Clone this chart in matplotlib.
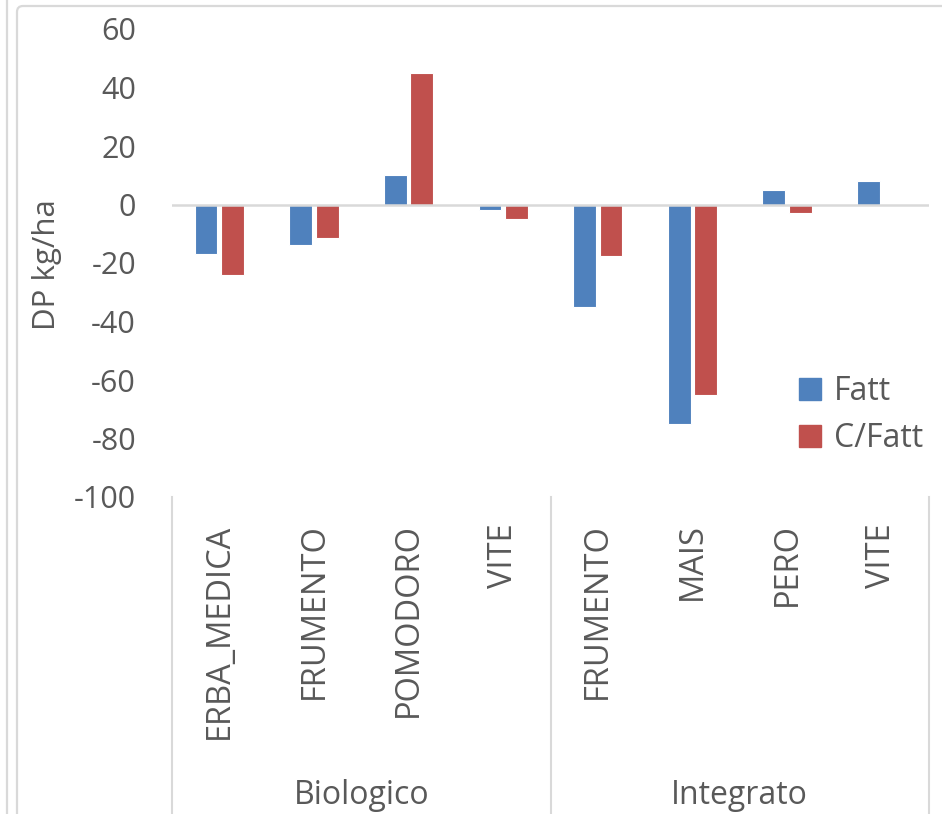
import numpy as np
import matplotlib
matplotlib.use("Agg")
import matplotlib.pyplot as plt
from matplotlib.patches import FancyBboxPatch, Patch
from matplotlib.lines import Line2D
from matplotlib.transforms import IdentityTransform

# data
crops = ['ERBA_MEDICA', 'FRUMENTO', 'POMODORO', 'VITE',
         'FRUMENTO', 'MAIS', 'PERO', 'VITE']
groups = ['Biologico', 'Integrato']
group_size = [4, 4]
fatt = [-17, -14, 10, -2, -35, -75, 5, 8]
c_fatt = [-24, -11.5, 45, -5, -17.5, -65, -3, 0]

blue = '#4F81BD'
red = '#C0504D'
txt = '#595959'
grid = '#D9D9D9'

plt.rcParams['font.family'] = ['Open Sans', 'DejaVu Sans']
plt.rcParams['axes.unicode_minus'] = False

W, H = 942, 814
fig = plt.figure(figsize=(W / 100, H / 100), dpi=100)

# chart borders
fig.add_artist(FancyBboxPatch((17, -30), 960, H - 6 + 30, boxstyle='round,pad=0,rounding_size=6',
                              transform=IdentityTransform(), fc='none', ec=grid, lw=1.6))
fig.add_artist(Line2D([7, 7], [0, H], transform=IdentityTransform(), color=grid, lw=1.6))

# plot area in pixels: x 172..929, y (top) 29..497
ax = fig.add_axes([172 / W, 1 - 497 / H, 757 / W, 468 / H])
x = np.arange(len(crops))
w = 0.24
ax.bar(x - 0.14, fatt, w, color=blue, edgecolor='white', linewidth=0.8, label='Fatt', zorder=3)
ax.bar(x + 0.14, c_fatt, w, color=red, edgecolor='white', linewidth=0.8, label='C/Fatt', zorder=3)
ax.axhline(0, color=grid, lw=1.8, zorder=4)

ax.set_xlim(-0.5, len(crops) - 0.5)
ax.set_ylim(-100, 60)
ax.set_yticks(range(-100, 61, 20))
ax.tick_params(axis='y', length=0, pad=26, labelsize=22, labelcolor=txt)
ax.set_xticks(x)
ax.set_xticklabels(crops, rotation=90)
ax.tick_params(axis='x', length=0, pad=19, labelsize=23.5, labelcolor=txt)
for s in ax.spines.values():
    s.set_visible(False)

# group separators and labels
edges = np.concatenate([[0], np.cumsum(group_size)]) - 0.5
for e in edges:
    ax.plot([e, e], [-100, -100 - 317 * 160 / 468], color=grid, lw=1.5, clip_on=False)
start = 0
for g, n in zip(groups, group_size):
    mid = start + (n - 1) / 2
    ax.text(mid, -100 - 298 * 160 / 468, g, ha='center', va='center',
            fontsize=23, color=txt)
    start += n

fig.text(47 / W, 1 - 265 / H, 'DP kg/ha', rotation=90, ha='center', va='center',
         fontsize=22.5, color=txt)

handles = [Patch(color=blue), Patch(color=red)]
fig.legend(handles, ['Fatt', 'C/Fatt'], loc='upper left', bbox_to_anchor=(783 / W, 1 - 359 / H),
           frameon=False, fontsize=23, labelcolor=txt, handlelength=0.7, handleheight=0.7,
           handletextpad=0.4, labelspacing=0.45, borderpad=0)

fig.savefig('out.png', dpi=100)
